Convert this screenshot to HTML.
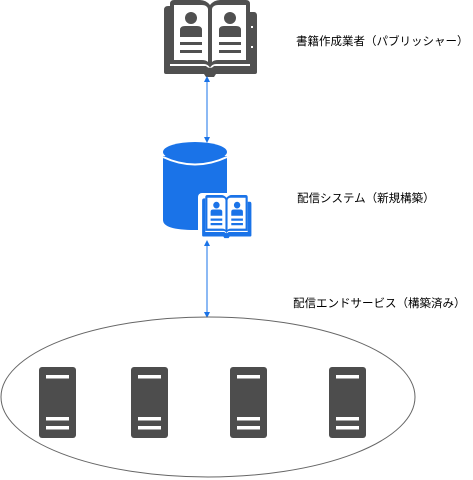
<!DOCTYPE html>
<html><head><meta charset="utf-8"><style>
html,body{margin:0;padding:0;background:#fff;width:473px;height:480px;overflow:hidden}
text{font-family:"Liberation Sans","Noto Sans CJK JP",sans-serif;font-size:11.5px;fill:#000}
</style></head><body>
<svg width="473" height="480" viewBox="0 0 473 480" xmlns="http://www.w3.org/2000/svg">
<defs>
<g id="book">
 <!-- book in 100x76 box -->
 <path d="M4 10 Q4 6 8 6 L10 6 L10 66 L46 66 Q50 70 54 66 L90 66 L90 12 L94 12 Q97 12 97 16 L97 72 Q97 74 95 74 L56 74 L54 77 L46 77 L44 74 L6 74 Q4 74 4 72 Z"/>
 <path d="M10 4 Q10 0 14 0 L40 0 Q46 0 50 5 Q54 0 60 0 L86 0 Q90 0 90 4 L90 64 L56 64 Q52 64 50 68 Q48 64 44 64 L10 64 Z"/>
 <path class="pg" d="M14 5 L42 5 Q47 5 48 9 L48 62 Q46 60 42 60 L14 60 Z M52 9 Q53 5 58 5 L86 5 L86 60 L58 60 Q54 60 52 62 Z"/>
</g>
</defs>
<!-- top book -->
<g transform="translate(160,0)" fill="#505050">
 <use href="#book"/>
 <path d="M14 5 L42 5 Q47 5 48 9 L48 62 Q46 60 42 60 L14 60 Z M52 9 Q53 5 58 5 L86 5 L86 60 L58 60 Q54 60 52 62 Z" fill="#fff"/>
 <circle cx="31" cy="18" r="6"/><path d="M20 37 L20 30 Q20 26 25 26 L37 26 Q42 26 42 30 L42 37 Z"/>
 <rect x="20" y="42" width="22" height="3"/><rect x="20" y="50" width="22" height="3"/>
 <circle cx="70" cy="18" r="6"/><path d="M59 37 L59 30 Q59 26 64 26 L76 26 Q81 26 81 30 L81 37 Z"/>
 <rect x="59" y="42" width="22" height="3"/><rect x="59" y="50" width="22" height="3"/>
 <rect x="91" y="26" width="2" height="2" fill="#fff"/><rect x="91" y="46" width="2" height="2" fill="#fff"/>
</g>
<!-- arrows -->
<g stroke="#1a73e8" stroke-width="1" fill="#1a73e8">
 <line x1="207" y1="80" x2="207" y2="139"/>
 <path d="M204 82 L207 76 L210 82 Z" stroke="none"/><path d="M204 137 L207 143 L210 137 Z" stroke="none"/>
 <line x1="207" y1="244" x2="207" y2="314"/>
 <path d="M204 246 L207 240 L210 246 Z" stroke="none"/><path d="M204 312 L207 318 L210 312 Z" stroke="none"/>
</g>
<!-- cylinder -->
<g fill="#1a73e8">
 <path d="M163 156 L163 220 Q163 230 195 230 Q227 230 227 220 L227 156 Z"/>
 <ellipse cx="195" cy="152" rx="32" ry="10"/>
 <path d="M163 157 Q195 172 227 157" stroke="#fff" stroke-width="2" fill="none"/>
</g>
<!-- small book -->
<rect x="198" y="193" width="56" height="47" rx="4" fill="#fff"/>
<g transform="translate(200,195) scale(0.53,0.56)" fill="#1a73e8">
 <use href="#book"/>
 <path d="M14 5 L42 5 Q47 5 48 9 L48 62 Q46 60 42 60 L14 60 Z M52 9 Q53 5 58 5 L86 5 L86 60 L58 60 Q54 60 52 62 Z" fill="#fff"/>
 <circle cx="31" cy="18" r="6"/><path d="M20 37 L20 30 Q20 26 25 26 L37 26 Q42 26 42 30 L42 37 Z"/>
 <rect x="20" y="42" width="22" height="4"/><rect x="20" y="50" width="22" height="4"/>
 <circle cx="70" cy="18" r="6"/><path d="M59 37 L59 30 Q59 26 64 26 L76 26 Q81 26 81 30 L81 37 Z"/>
 <rect x="59" y="42" width="22" height="4"/><rect x="59" y="50" width="22" height="4"/>
</g>
<!-- ellipse -->
<ellipse cx="208" cy="397" rx="207" ry="80" fill="none" stroke="#666" stroke-width="1"/>
<!-- servers -->
<g fill="#4d4d4d">
 <g id="srv"><rect x="39" y="367" width="37" height="71" rx="3"/>
  <rect x="46" y="375" width="23" height="3.5" fill="#fff"/>
  <rect x="46" y="417" width="23" height="3.5" fill="#fff"/>
  <rect x="46" y="426" width="23" height="3.5" fill="#fff"/></g>
 <use href="#srv" x="92"/>
 <use href="#srv" x="191"/>
 <use href="#srv" x="290"/>
</g>
<text x="296" y="45">書籍作成業者（パブリッシャー）</text>
<text x="297" y="202">配信システム（新規構築）</text>
<text x="293" y="307">配信エンドサービス（構築済み）</text>
</svg>
</body></html>
